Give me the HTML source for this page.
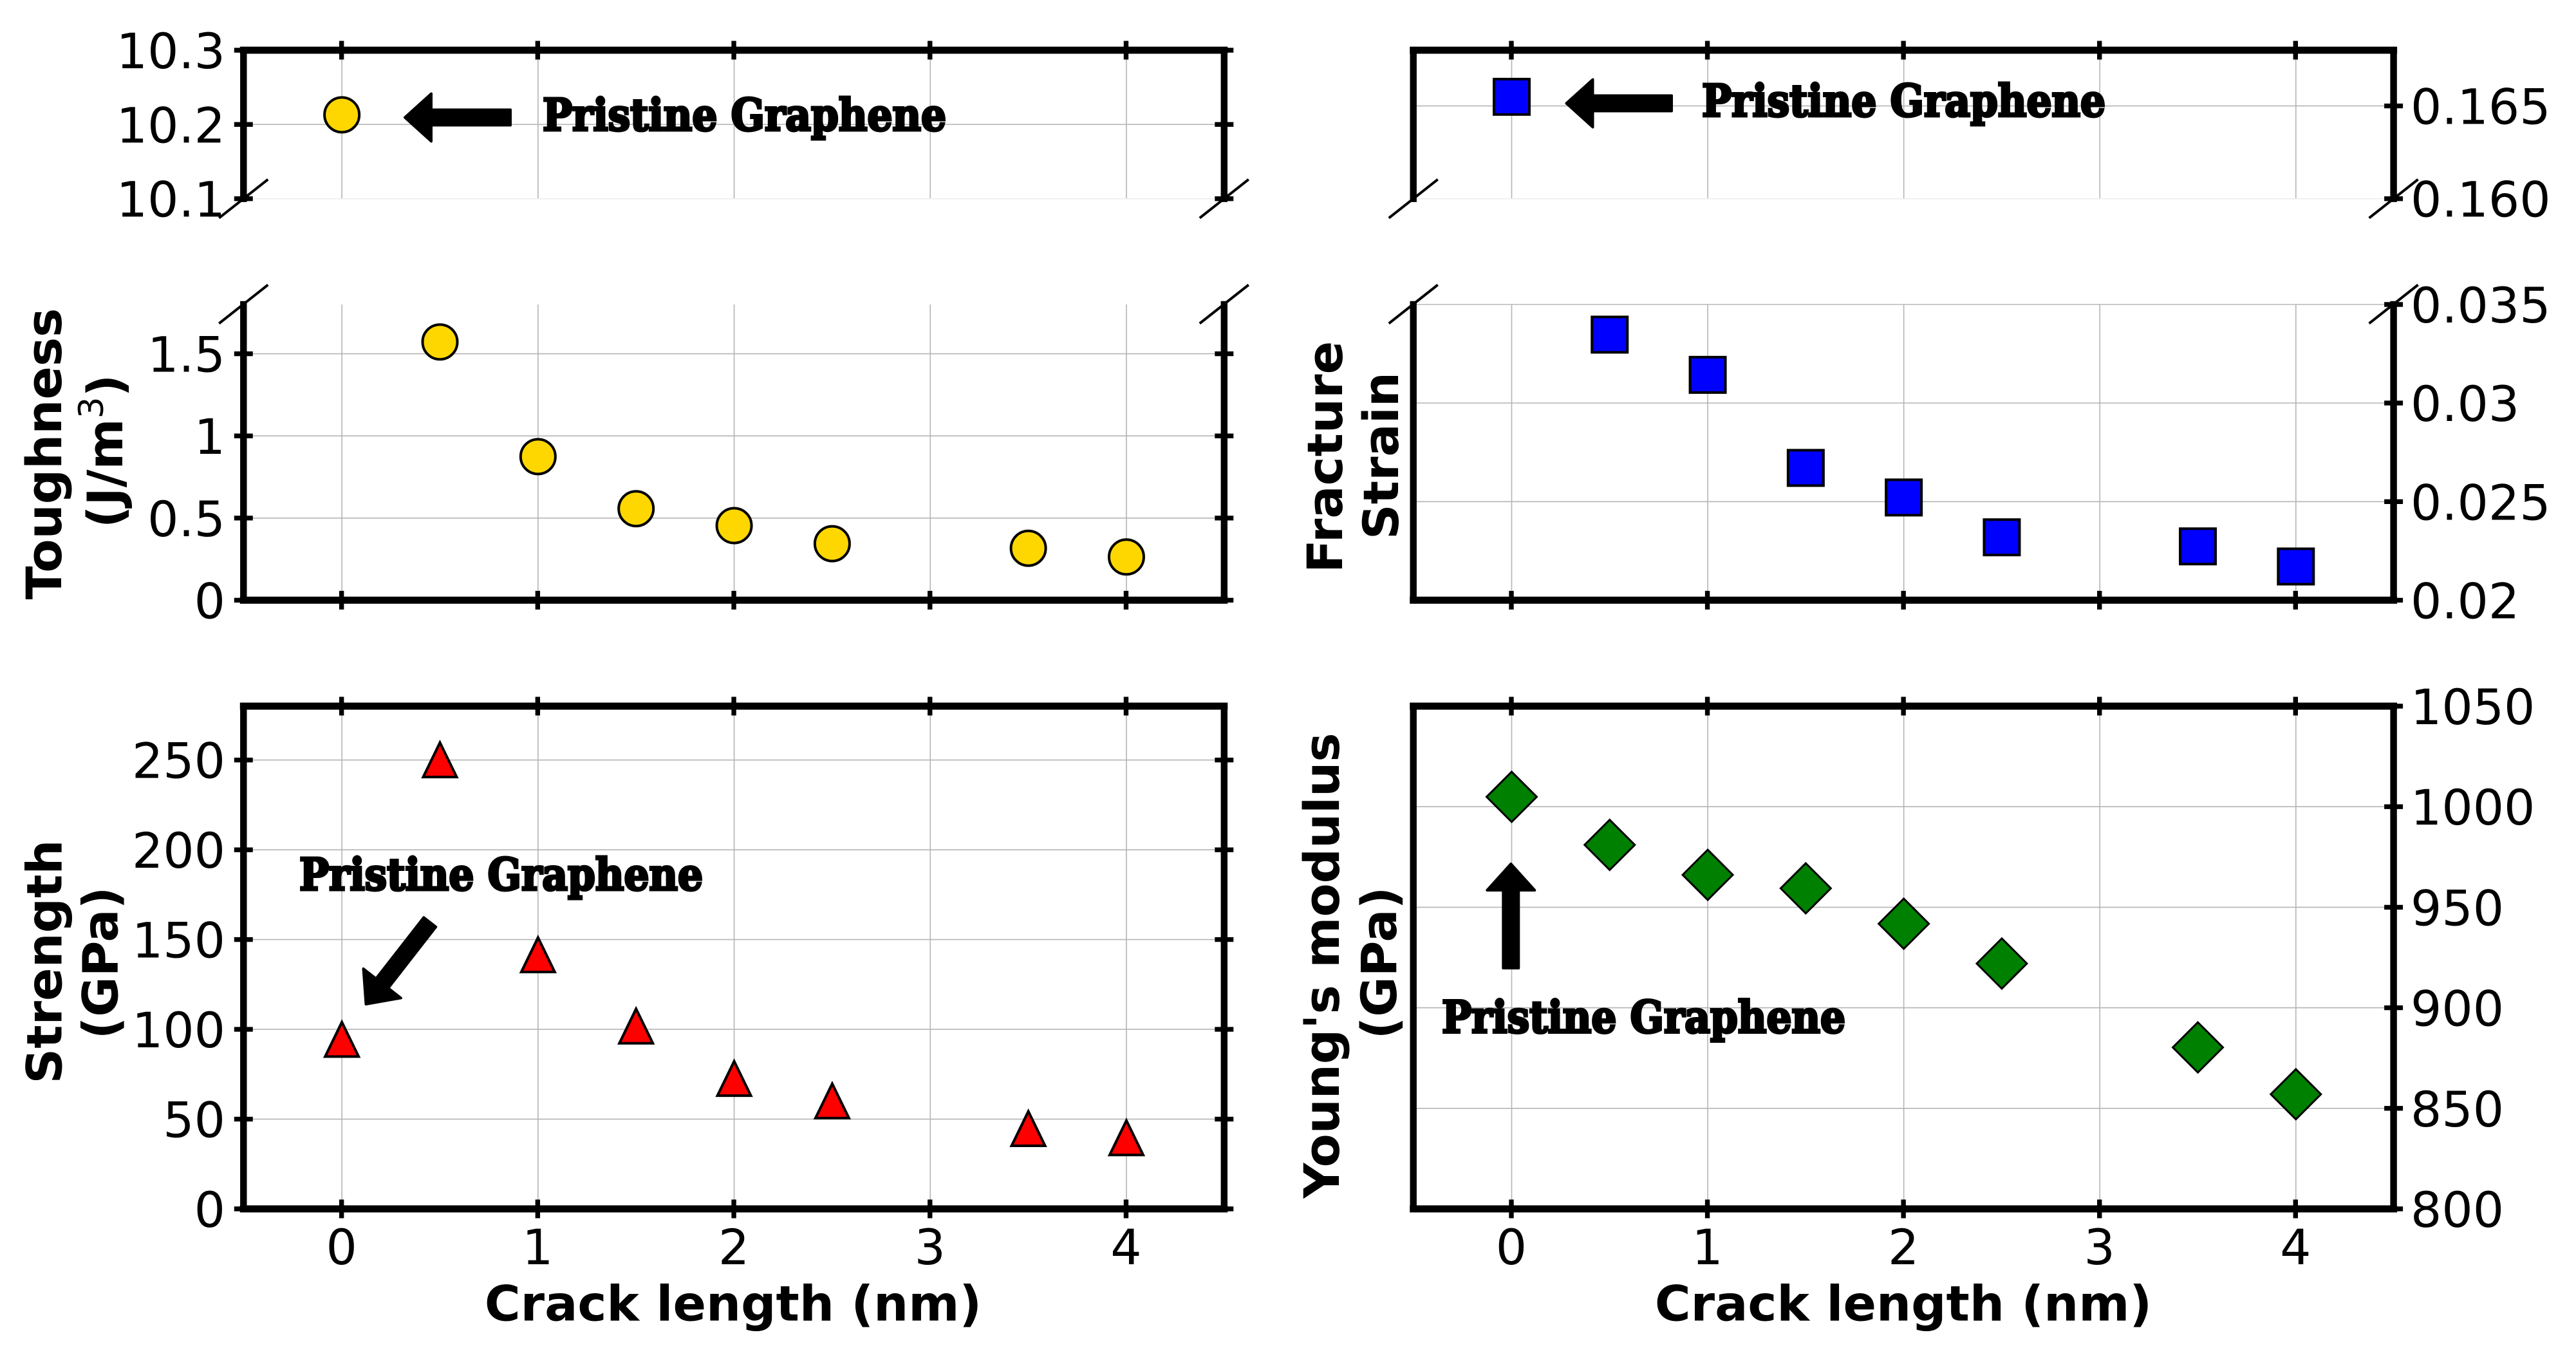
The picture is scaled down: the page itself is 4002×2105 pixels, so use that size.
<!DOCTYPE html>
<html lang="en">
<head>
<meta charset="utf-8">
<title>Crack length vs mechanical properties</title>
<style>
html,body{margin:0;padding:0;background:#fff;width:4002px;height:2105px;overflow:hidden}
svg{display:block}
text{font-family:"DejaVu Sans","Liberation Sans",sans-serif;fill:#000}
.annot{font-family:"DejaVu Serif","Liberation Serif",serif;font-weight:bold;font-size:68px;stroke:#000;stroke-width:4px;paint-order:stroke}
.axt{font-weight:bold;font-size:76px}
</style>
</head>
<body>
<svg id="chart" xmlns="http://www.w3.org/2000/svg" width="4002" height="2105" viewBox="0 0 4002 2105">
<rect width="4002" height="2105" fill="#fff"/>
<g id="panels"></g>

<text class="axt" text-anchor="middle" transform="translate(95,705) rotate(-90)">Toughness</text>
<text class="axt" text-anchor="middle" transform="translate(190,701) rotate(-90)">(J/m<tspan font-size="53" font-weight="normal" dy="-30">3</tspan><tspan dy="30">)</tspan></text>
<text class="axt" text-anchor="middle" transform="translate(95.3,1494) rotate(-90)">Strength</text>
<text class="axt" text-anchor="middle" transform="translate(182.3,1496) rotate(-90)">(GPa)</text>
<text class="axt" text-anchor="middle" transform="translate(2085,710) rotate(-90)">Fracture</text>
<text class="axt" text-anchor="middle" transform="translate(2172,708) rotate(-90)">Strain</text>
<text class="axt" text-anchor="middle" transform="translate(2080,1500) rotate(-90)">Young's modulus</text>
<text class="axt" text-anchor="middle" transform="translate(2169,1496) rotate(-90)">(GPa)</text>

<text class="axt" x="1139" y="2051.5" text-anchor="middle">Crack length (nm)</text>
<text class="axt" x="2957" y="2051.5" text-anchor="middle">Crack length (nm)</text>

<text class="annot" x="843" y="202.7" textLength="627" lengthAdjust="spacingAndGlyphs">Pristine Graphene</text>
<text class="annot" x="2644" y="180.5" textLength="627" lengthAdjust="spacingAndGlyphs">Pristine Graphene</text>
<text class="annot" x="465" y="1382.7" textLength="627" lengthAdjust="spacingAndGlyphs">Pristine Graphene</text>
<text class="annot" x="2240" y="1604" textLength="627" lengthAdjust="spacingAndGlyphs">Pristine Graphene</text>
</svg>

<script>
// ---- data ----
const crackLengths = [0, 0.5, 1, 1.5, 2, 2.5, 3.5, 4];
const toughnessValues = [10.213, 1.572, 0.874, 0.557, 0.454, 0.344, 0.316, 0.263];
const strainValues = [0.16549, 0.03347, 0.03143, 0.02671, 0.02521, 0.02319, 0.02273, 0.02171];
const strengthValues = [94.7, 250.4, 141.8, 102.1, 72.9, 60.4, 45.0, 39.9];
const modulusValues = [1004.9, 981.0, 966.1, 959.4, 941.8, 922.0, 880.3, 857.0];

const xTicks = [0, 1, 2, 3, 4];
const xTickLabels = ['0', '1', '2', '3', '4'];
const toughnessUpperTicks = [10.1, 10.2, 10.3];
const toughnessUpperLabels = ['10.1', '10.2', '10.3'];
const toughnessLowerTicks = [0, 0.5, 1, 1.5];
const toughnessLowerLabels = ['0', '0.5', '1', '1.5'];
const strainUpperTicks = [0.16, 0.165];
const strainUpperLabels = ['0.160', '0.165'];
const strainLowerTicks = [0.02, 0.025, 0.03, 0.035];
const strainLowerLabels = ['0.02', '0.025', '0.03', '0.035'];
const strengthTicks = [0, 50, 100, 150, 200, 250];
const strengthLabels = ['0', '50', '100', '150', '200', '250'];
const modulusTicks = [800, 850, 900, 950, 1000, 1050];
const modulusLabels = ['800', '850', '900', '950', '1000', '1050'];

// ---- axis functions ----
function makeAxis(d0, d1, p0, p1) {
  return function (v) { return p0 + (v - d0) / (d1 - d0) * (p1 - p0); };
}
const xLeft = makeAxis(-0.5, 4.5, 378.3, 1901.8);
const xRight = makeAxis(-0.5, 4.5, 2195.7, 3718.6);
const toughUpperY = makeAxis(10.1, 10.3, 308.7, 78);
const toughLowerY = makeAxis(0, 1.8, 932.4, 473);
const strainUpperY = makeAxis(0.16, 0.168, 308.7, 78);
const strainLowerY = makeAxis(0.02, 0.035, 932.4, 473);
const strengthY = makeAxis(0, 280, 1878, 1097);
const modulusY = makeAxis(800, 1050, 1878, 1097);

const NS = 'http://www.w3.org/2000/svg';
const root = document.getElementById('panels');

function make(parent, tag, attrs) {
  const node = document.createElementNS(NS, tag);
  for (const k in attrs) node.setAttribute(k, attrs[k]);
  parent.appendChild(node);
  return node;
}

function drawPanel(p) {
  const g = make(root, 'g', {});
  
  

  const left = p.x(-0.5), right = p.x(4.5);

  // grid
  p.xTicks.forEach(function (v) {
    const gl = make(g, 'line', { x1: p.x(v) + 0.5, x2: p.x(v) + 0.5, y1: p.top, y2: p.bottom, stroke: '#b4b4b4', 'stroke-width': 1.6 });
    
    
  });
  p.yTicks.forEach(function (v) {
    const yy = p.y(v);
    const atEdge = Math.abs(yy - p.top) < 0.5 || Math.abs(yy - p.bottom) < 0.5;
    const gl = make(g, 'line', { x1: left, x2: right, y1: yy, y2: yy, stroke: atEdge ? (p.edgeGrid || '#ececec') : '#b4b4b4', 'stroke-width': atEdge ? 1.5 : 1.6 });
    
    
  });

  // spines
  p.spines.forEach(function (s) {
    const c = { top: [left, p.top, right, p.top], bottom: [left, p.bottom, right, p.bottom], left: [left, p.top, left, p.bottom], right: [right, p.top, right, p.bottom] }[s];
    const vertical = s === 'left' || s === 'right';
    const sp = make(g, 'line', { x1: c[0], y1: c[1], x2: c[2], y2: c[3], stroke: '#000', 'stroke-width': vertical ? 10.4 : 11, 'stroke-linecap': 'square' });
    
    
  });

  // x ticks
  p.xTickEdges.forEach(function (edge) {
    const yy = edge === 'top' ? p.top : p.bottom;
    p.xTicks.forEach(function (v) {
      const t = make(g, 'line', { x1: p.x(v), x2: p.x(v), y1: yy - 14.5, y2: yy + 14.5, stroke: '#000', 'stroke-width': 7.4 });
      
      
    });
  });

  // y ticks
  p.yTickEdges.forEach(function (edge) {
    const xx = edge === 'left' ? left : right;
    p.yTicks.forEach(function (v) {
      const t = make(g, 'line', { x1: xx - 14.5, x2: xx + 14.5, y1: p.y(v), y2: p.y(v), stroke: '#000', 'stroke-width': 7.4 });
      
      
    });
  });

  // y tick labels
  p.yTicks.forEach(function (v, i) {
    const onLeft = p.labelSide === 'left';
    const t = make(g, 'text', { x: onLeft ? 350 : 3745, y: p.y(v) + 28, 'text-anchor': onLeft ? 'end' : 'start', 'font-size': 76 });
    t.textContent = p.yLabels[i];
    
    
  });

  // x tick labels
  if (p.showXLabels) {
    p.xTicks.forEach(function (v, i) {
      const t = make(g, 'text', { x: p.x(v), y: 1964, 'text-anchor': 'middle', 'font-size': 76 });
      t.textContent = xTickLabels[i];
      
      
    });
  }

  // axis-break marks
  (p.breaks || []).forEach(function (b) {
    [left, right].forEach(function (xx) {
      const d = make(g, 'line', { x1: xx - 38, y1: b + 30, x2: xx + 38, y2: b - 30, stroke: '#000', 'stroke-width': 4 });
      
      
    });
  });
}

function drawPoints(name, xs, ys, xScale, yOf, shape, fill) {
  const g = make(root, 'g', {});
  
  
  xs.forEach(function (xv, i) {
    const cx = xScale(xv) + 0.5, cy = yOf(ys[i]);
    let m;
    if (shape === 'circle') {
      m = make(g, 'circle', { cx: cx, cy: cy, r: 27, fill: fill, stroke: '#000', 'stroke-width': 4 });
    } else if (shape === 'square') {
      m = make(g, 'rect', { x: cx - 27.5, y: cy - 27.5, width: 55, height: 55, fill: fill, stroke: '#000', 'stroke-width': 4 });
    } else if (shape === 'triangle') {
      m = make(g, 'polygon', { points: [cx, cy - 26, cx + 26, cy + 27.5, cx - 26, cy + 27.5].join(' '), fill: fill, stroke: '#000', 'stroke-width': 4, 'stroke-linejoin': 'miter' });
    } else {
      m = make(g, 'polygon', { points: [cx, cy - 39, cx + 39, cy, cx, cy + 39, cx - 39, cy].join(' '), fill: fill, stroke: '#000', 'stroke-width': 3, 'stroke-linejoin': 'miter' });
    }
    
    
  });
}

function drawArrow(name, tipX, tipY, tailX, tailY) {
  const dx = tailX - tipX, dy = tailY - tipY, len = Math.hypot(dx, dy);
  const ux = dx / len, uy = dy / len, nx = -uy, ny = ux;
  const hw = 37, sw = 12, hl = 41;
  const pt = function (a, b) { return (tipX + ux * a + nx * b) + ',' + (tipY + uy * a + ny * b); };
  const pts = [pt(0, 0), pt(hl, hw), pt(hl, sw), pt(len - 2, sw), pt(len - 2, -sw), pt(hl, -sw), pt(hl, -hw)].join(' ');
  const a = make(root, 'polygon', { points: pts, fill: '#000', stroke: '#000', 'stroke-width': 4, 'stroke-linejoin': 'round' });
  
  
}

// ---- panels ----
drawPanel({ name: 'toughness-upper', x: xLeft, y: toughUpperY, top: 78, bottom: 308.7, xTicks: xTicks, yTicks: toughnessUpperTicks, yLabels: toughnessUpperLabels, spines: ['top', 'left', 'right'], xTickEdges: ['top'], yTickEdges: ['left', 'right'], labelSide: 'left', showXLabels: false, breaks: [308.7] });
drawPanel({ name: 'toughness-lower', x: xLeft, y: toughLowerY, top: 473, bottom: 932.4, xTicks: xTicks, yTicks: toughnessLowerTicks, yLabels: toughnessLowerLabels, spines: ['bottom', 'left', 'right'], xTickEdges: ['bottom'], yTickEdges: ['left', 'right'], labelSide: 'left', showXLabels: false, breaks: [472.5] });
drawPanel({ name: 'strain-upper', x: xRight, y: strainUpperY, top: 78, bottom: 308.7, xTicks: xTicks, yTicks: strainUpperTicks, yLabels: strainUpperLabels, spines: ['top', 'left', 'right'], xTickEdges: ['top'], yTickEdges: ['right'], labelSide: 'right', showXLabels: false, breaks: [308.7] });
drawPanel({ name: 'strain-lower', x: xRight, y: strainLowerY, top: 473, bottom: 932.4, xTicks: xTicks, yTicks: strainLowerTicks, yLabels: strainLowerLabels, spines: ['bottom', 'left', 'right'], xTickEdges: ['bottom'], yTickEdges: ['right'], labelSide: 'right', showXLabels: false, breaks: [472.5], edgeGrid: '#b8b8b8' });
drawPanel({ name: 'strength', x: xLeft, y: strengthY, top: 1097, bottom: 1878, xTicks: xTicks, yTicks: strengthTicks, yLabels: strengthLabels, spines: ['top', 'bottom', 'left', 'right'], xTickEdges: ['top', 'bottom'], yTickEdges: ['left', 'right'], labelSide: 'left', showXLabels: true });
drawPanel({ name: 'modulus', x: xRight, y: modulusY, top: 1097, bottom: 1878, xTicks: xTicks, yTicks: modulusTicks, yLabels: modulusLabels, spines: ['top', 'bottom', 'left', 'right'], xTickEdges: ['top', 'bottom'], yTickEdges: ['right'], labelSide: 'right', showXLabels: true });

// ---- series (broken axes choose the segment by value) ----
drawPoints('toughness', crackLengths, toughnessValues, xLeft, function (v) { return v > 5 ? toughUpperY(v) : toughLowerY(v); }, 'circle', '#FFD700');
drawPoints('fracture-strain', crackLengths, strainValues, xRight, function (v) { return v > 0.1 ? strainUpperY(v) : strainLowerY(v); }, 'square', '#0000FF');
drawPoints('strength', crackLengths, strengthValues, xLeft, strengthY, 'triangle', '#FF0000');
drawPoints('youngs-modulus', crackLengths, modulusValues, xRight, modulusY, 'diamond', '#008000');

// ---- annotation arrows ----
drawArrow('toughness-pristine-arrow', 629, 182.5, 795, 182.5);
drawArrow('strain-pristine-arrow', 2433.5, 160.5, 2599, 160.5);
drawArrow('strength-pristine-arrow', 568.5, 1560, 669, 1431);
drawArrow('modulus-pristine-arrow', 2347.3, 1342, 2347.3, 1506);
</script>
</body>
</html>
